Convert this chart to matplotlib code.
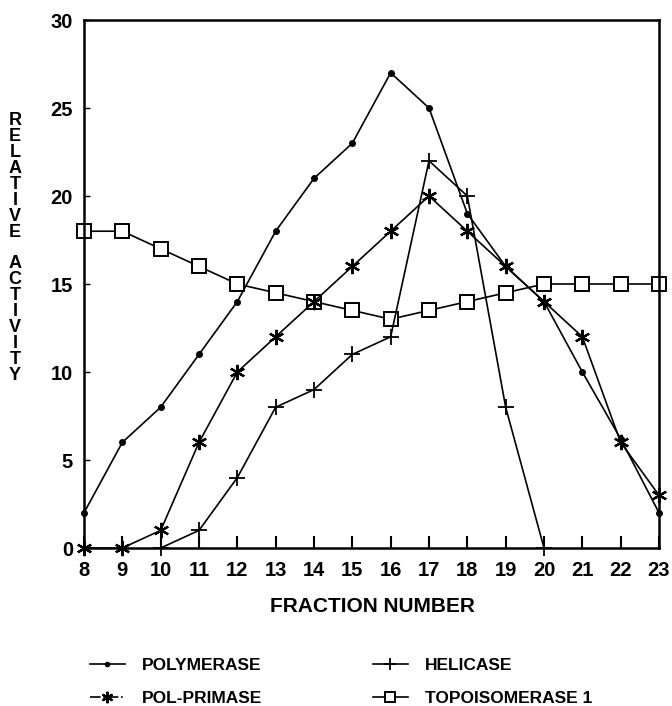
import numpy as np
import matplotlib.pyplot as plt
from matplotlib.lines import Line2D

plt.rcParams['font.family'] = ['Liberation Sans', 'DejaVu Sans']
plt.rcParams['font.weight'] = 'bold'

fractions = np.arange(8, 24)
polymerase = [2, 6, 8, 11, 14, 18, 21, 23, 27, 25, 19, 16, 14, 10, 6.2, 2]
pol_primase = [0, 0, 1, 6, 10, 12, 14, 16, 18, 20, 18, 16, 14, 12, 6, 3]
helicase_x = np.arange(10, 21)
helicase = [0, 1, 4, 8, 9, 11, 12, 22, 20, 8, 0]
topoisomerase = [18, 18, 17, 16, 15, 14.5, 14, 13.5, 13, 13.5, 14, 14.5, 15, 15, 15, 15]

fig = plt.figure(figsize=(6.72, 7.06), dpi=100)
ax = fig.add_axes([84 / 672, 1 - 548 / 706, 575 / 672, 528 / 706])

lw = 1.2
poly_style = dict(color='black', lw=lw, marker='o', ms=4)
prim_style = dict(color='black', lw=lw, marker=(6, 2, 0), ms=11, mew=1.6)
heli_style = dict(color='black', lw=lw, marker='+', ms=12, mew=1.3)
topo_style = dict(color='black', lw=lw, marker='s', ms=9.5, mfc='white', mew=1.4)

ax.plot(fractions, polymerase, clip_on=False, zorder=3, **poly_style)
ax.plot(fractions, pol_primase, clip_on=False, zorder=3, **prim_style)
ax.plot(helicase_x, helicase, clip_on=False, zorder=3, **heli_style)
ax.plot(fractions, topoisomerase, clip_on=False, zorder=2, **topo_style)

ax.set_xlim(8, 23)
ax.set_ylim(0, 30)
ax.set_xticks(fractions)
ax.set_yticks([0, 5, 10, 15, 20, 25, 30])
ax.tick_params(axis='x', direction='in', length=9, width=1.5, labelsize=14.5, pad=9)
ax.tick_params(axis='y', direction='in', length=4, width=1.0, labelsize=14.5, pad=8)
for s in ax.spines.values():
    s.set_linewidth(1.8)

fig.text(372 / 672, 1 - 606 / 706, 'FRACTION NUMBER', ha='center', va='center',
         fontsize=15, fontweight='bold')

ylab = 'R\nE\nL\nA\nT\nI\nV\nE\n\nA\nC\nT\nI\nV\nI\nT\nY'
fig.text(15 / 672, 1 - 248 / 706, ylab, ha='center', va='center',
         fontsize=13, fontweight='bold', linespacing=0.92)

legend_kw = dict(loc='upper left', frameon=False, fontsize=12.5, handlelength=2.0,
                 handletextpad=1.0, labelspacing=1.0, borderpad=0, borderaxespad=0,
                 markerscale=0.75)
h1 = [Line2D([], [], **poly_style), Line2D([], [], ls='-.', **prim_style)]
h2 = [Line2D([], [], **heli_style), Line2D([], [], **topo_style)]
fig.legend(h1, ['POLYMERASE', 'POL-PRIMASE'],
           bbox_to_anchor=(90 / 672, 1 - 658 / 706), **legend_kw)
fig.legend(h2, ['HELICASE', 'TOPOISOMERASE 1'],
           bbox_to_anchor=(373 / 672, 1 - 658 / 706), **legend_kw)

fig.savefig('out.png', dpi=100)
